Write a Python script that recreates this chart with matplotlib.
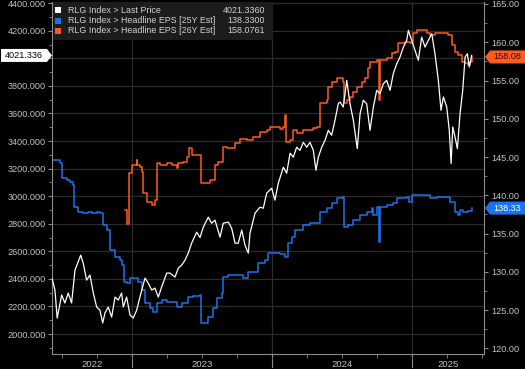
import matplotlib
matplotlib.use('Agg')
import matplotlib.pyplot as plt
import matplotlib.transforms as mtransforms
from matplotlib.patches import Polygon, Rectangle
from matplotlib.ticker import MultipleLocator, FormatStrFormatter, FuncFormatter

# RLG Index last price (left axis), x in decimal years
price_t = [2022.429, 2022.450, 2022.466, 2022.498, 2022.521, 2022.545, 2022.569, 2022.593,
           2022.634, 2022.652, 2022.676, 2022.700, 2022.724, 2022.748, 2022.771, 2022.791,
           2022.807, 2022.831, 2022.855, 2022.879, 2022.902, 2022.926, 2022.938, 2022.962,
           2022.986, 2023.009, 2023.034, 2023.057, 2023.093, 2023.116, 2023.141, 2023.164,
           2023.188, 2023.212, 2023.248, 2023.271, 2023.307, 2023.331, 2023.355, 2023.379,
           2023.402, 2023.426, 2023.462, 2023.486, 2023.509, 2023.545, 2023.569, 2023.593,
           2023.629, 2023.652, 2023.688, 2023.712, 2023.736, 2023.759, 2023.784, 2023.807,
           2023.831, 2023.843, 2023.879, 2023.914, 2023.938, 2023.962, 2023.998, 2024.021,
           2024.045, 2024.081, 2024.105, 2024.129, 2024.152, 2024.176, 2024.200, 2024.224,
           2024.248, 2024.271, 2024.295, 2024.314, 2024.331, 2024.355, 2024.379, 2024.402,
           2024.426, 2024.450, 2024.474, 2024.486, 2024.509, 2024.534, 2024.557, 2024.581,
           2024.609, 2024.629, 2024.652, 2024.676, 2024.700, 2024.724, 2024.748, 2024.771,
           2024.795, 2024.819, 2024.843, 2024.866, 2024.891, 2024.914, 2024.938, 2024.962,
           2024.974, 2024.998, 2025.021, 2025.045, 2025.069, 2025.093, 2025.116, 2025.141,
           2025.164, 2025.188, 2025.207, 2025.224, 2025.248, 2025.266, 2025.279, 2025.291,
           2025.307, 2025.324, 2025.343, 2025.362, 2025.379, 2025.395, 2025.409, 2025.426]
price_v = [2404, 2319, 2116, 2283, 2225, 2297, 2225, 2464,
           2572, 2514, 2391, 2428, 2297, 2196, 2174, 2080,
           2152, 2196, 2123, 2268, 2246, 2297, 2196, 2268,
           2138, 2116, 2174, 2268, 2406, 2370, 2319, 2333,
           2268, 2341, 2442, 2442, 2413, 2478, 2500, 2536,
           2587, 2659, 2739, 2700, 2775, 2848, 2804, 2826,
           2703, 2804, 2812, 2768, 2659, 2659, 2754, 2645,
           2587, 2732, 2877, 2920, 2913, 3022, 3058, 2971,
           3094, 3210, 3167, 3312, 3283, 3355, 3333, 3391,
           3355, 3391, 3333, 3188, 3283, 3355, 3406, 3478,
           3442, 3551, 3674, 3683, 3647, 3840, 3671, 3551,
           3345, 3599, 3696, 3671, 3478, 3647, 3768, 3744,
           3816, 3840, 3768, 3889, 3961, 4009, 4082, 4130,
           4203, 4130, 4058, 3986, 4154, 4082, 4130, 4179,
           4033, 3840, 3623, 3720, 3647, 3478, 3237, 3502,
           3430, 3345, 3599, 3768, 4009, 4033, 3937, 4021.336]

# Headline EPS 25Y estimate (right axis)
eps25_t = [2022.429, 2022.486, 2022.498, 2022.534, 2022.557, 2022.576, 2022.586, 2022.616,
           2022.652, 2022.688, 2022.712, 2022.748, 2022.771, 2022.795, 2022.819, 2022.843,
           2022.879, 2022.914, 2022.926, 2022.943, 2022.962, 2022.986, 2023.021, 2023.045,
           2023.069, 2023.093, 2023.129, 2023.152, 2023.176, 2023.212, 2023.248, 2023.284,
           2023.319, 2023.355, 2023.391, 2023.402, 2023.438, 2023.486, 2023.491, 2023.521,
           2023.545, 2023.581, 2023.605, 2023.641, 2023.652, 2023.688, 2023.771, 2023.795,
           2023.831, 2023.879, 2023.902, 2023.950, 2023.974, 2024.057, 2024.093, 2024.116,
           2024.141, 2024.164, 2024.224, 2024.271, 2024.319, 2024.343, 2024.391, 2024.426,
           2024.462, 2024.509, 2024.514, 2024.545, 2024.581, 2024.629, 2024.676, 2024.712,
           2024.724, 2024.748, 2024.764, 2024.766, 2024.769, 2024.819, 2024.866, 2024.891,
           2024.962, 2024.981, 2024.998, 2025.081, 2025.129, 2025.176, 2025.248, 2025.271,
           2025.307, 2025.331, 2025.343, 2025.366, 2025.402, 2025.426]
eps25_v = [144.58, 144.18, 142.22, 142.00, 141.78, 141.37, 138.50, 137.85,
           137.64, 137.85, 137.64, 137.85, 137.64, 136.11, 135.45, 132.85,
           131.97, 131.55, 130.89, 128.71, 128.49, 129.15, 129.15, 128.71,
           127.63, 125.89, 125.23, 124.79, 125.89, 126.31, 126.09, 126.09,
           125.45, 125.89, 125.89, 126.75, 126.88, 126.97, 123.26, 123.26,
           124.14, 125.23, 126.53, 127.18, 129.36, 129.58, 129.58, 129.22,
           130.01, 130.01, 131.11, 131.55, 132.42, 132.33, 131.97, 133.72,
           134.59, 135.45, 136.11, 136.33, 136.33, 137.85, 138.28, 138.94,
           139.60, 139.83, 135.89, 136.11, 136.77, 137.42, 137.85, 138.28,
           137.42, 138.50, 138.50, 133.94, 138.50, 138.72, 138.94, 139.60,
           139.81, 139.16, 140.03, 140.03, 139.60, 139.81, 139.81, 139.16,
           137.85, 137.42, 138.07, 137.85, 137.98, 138.33]

# Headline EPS 26Y estimate (right axis)
eps26_t = [2022.950, 2022.962, 2022.974, 2022.981, 2022.998, 2023.029, 2023.034, 2023.039,
           2023.057, 2023.069, 2023.076, 2023.105, 2023.141, 2023.164, 2023.176, 2023.200,
           2023.248, 2023.284, 2023.319, 2023.331, 2023.366, 2023.391, 2023.409, 2023.426,
           2023.486, 2023.491, 2023.545, 2023.557, 2023.593, 2023.616, 2023.652, 2023.676,
           2023.712, 2023.736, 2023.771, 2023.819, 2023.866, 2023.914, 2023.962, 2023.986,
           2024.021, 2024.057, 2024.076, 2024.093, 2024.100, 2024.129, 2024.152, 2024.176,
           2024.224, 2024.295, 2024.319, 2024.343, 2024.391, 2024.402, 2024.426, 2024.462,
           2024.486, 2024.509, 2024.514, 2024.534, 2024.557, 2024.581, 2024.605, 2024.641,
           2024.664, 2024.688, 2024.700, 2024.748, 2024.763, 2024.766, 2024.769, 2024.784,
           2024.819, 2024.855, 2024.879, 2024.902, 2024.950, 2024.986, 2025.009, 2025.034,
           2025.081, 2025.105, 2025.129, 2025.164, 2025.236, 2025.259, 2025.284, 2025.307,
           2025.331, 2025.355, 2025.379, 2025.402, 2025.414, 2025.426]
eps26_v = [138.07, 136.30, 136.30, 142.88, 143.96, 143.96, 144.61, 143.96,
           143.74, 143.08, 140.26, 139.16, 138.72, 139.37, 144.18, 143.96,
           144.18, 143.96, 143.52, 144.18, 144.39, 145.04, 146.14, 145.26,
           145.26, 141.56, 141.56, 142.00, 143.96, 144.39, 146.35, 146.14,
           146.14, 146.79, 147.31, 147.22, 147.66, 148.31, 148.53, 148.96,
           148.88, 148.63, 148.96, 150.48, 147.00, 147.22, 148.53, 148.10,
           148.53, 148.75, 148.96, 152.02, 152.44, 154.18, 154.84, 155.28,
           155.28, 154.84, 152.02, 152.44, 152.88, 153.54, 154.18, 154.84,
           155.28, 156.59, 157.46, 157.68, 157.68, 152.44, 157.68, 157.68,
           157.90, 158.55, 158.76, 159.86, 160.07, 159.86, 161.17, 161.60,
           161.60, 161.17, 160.95, 161.17, 161.17, 160.95, 159.64, 158.76,
           158.33, 157.46, 157.25, 157.03, 157.46, 158.0761]

legend_names = ['RLG Index > Last Price',
                'RLG Index > Headline EPS [25Y Est]',
                'RLG Index > Headline EPS [26Y Est]']
legend_values = ['4021.3360', '138.3300', '158.0761']
tag_left = '4021.336'
tag_eps25 = '138.33'
tag_eps26 = '158.08'
years = [2022, 2023, 2024, 2025]

WHITE = '#ffffff'
BLUE = '#1a73f0'
ORANGE = '#ff5a1f'
GRID = '#2c2c2c'
TXT = '#c4c4c4'
SPINE = '#8c8c8c'

plt.rcParams['font.family'] = ['Liberation Sans', 'DejaVu Sans']

W, H = 525, 369
fig = plt.figure(figsize=(W / 100, H / 100), dpi=100, facecolor='black')
ax2 = fig.add_axes([52 / W, 1 - 354 / H, 432 / W, 352 / H])
ax2.set_facecolor('black')
ax = fig.add_axes(ax2.get_position(), sharex=ax2)
ax.patch.set_visible(False)

xmin, xmax = 2022.429, 2025.514
ax2.set_xlim(xmin, xmax)
ax.set_ylim(1855, 4409)
ax2.set_ylim(119.26, 165.26)

# grid: vertical at year starts, horizontal at left ticks (drawn under the lines)
left_ticks = list(range(2000, 4401, 200))
blend_l = mtransforms.blended_transform_factory(ax2.transAxes, ax.transData)
for yv in left_ticks:
    ax2.plot([0, 1], [yv, yv], color=GRID, lw=0.9, transform=blend_l, zorder=0)
for yr in years[1:]:
    ax2.axvline(yr, color=GRID, lw=0.9, zorder=0)

ax2.plot(eps25_t, eps25_v, color=BLUE, lw=1.1, drawstyle='steps-post', zorder=2)
ax2.plot(eps26_t, eps26_v, color=ORANGE, lw=1.1, drawstyle='steps-post', zorder=2)
ax.plot(price_t, price_v, color=WHITE, lw=0.9, zorder=3)

# axes styling
for a in (ax, ax2):
    for s in a.spines.values():
        s.set_visible(False)
ax.spines['left'].set_visible(True)
ax.spines['left'].set_color(SPINE)
ax.spines['bottom'].set_visible(True)
ax.spines['bottom'].set_color(SPINE)
ax2.spines['right'].set_visible(True)
ax2.spines['right'].set_color(SPINE)


def left_fmt(v, pos):
    # the last-price tag sits over the tick label it would collide with
    if abs(v - price_v[-1]) < 100:
        return ''
    return '%.3f' % v


ax.yaxis.set_major_locator(MultipleLocator(200))
ax.yaxis.set_minor_locator(MultipleLocator(100))
ax.yaxis.set_major_formatter(FuncFormatter(left_fmt))
ax.tick_params(axis='y', which='both', direction='out', color=SPINE, labelcolor=TXT,
               labelsize=6.6, pad=1.5)
ax.tick_params(axis='y', which='major', length=3)
ax.tick_params(axis='y', which='minor', length=2)

ax2.yaxis.set_major_locator(MultipleLocator(5))
ax2.yaxis.set_minor_locator(MultipleLocator(2.5))
ax2.yaxis.set_major_formatter(FormatStrFormatter('%.2f'))
ax2.yaxis.tick_right()
ax2.tick_params(axis='y', which='both', direction='out', color=SPINE, labelcolor=TXT,
                labelsize=6.6, pad=2)
ax2.tick_params(axis='y', which='major', length=3)
ax2.tick_params(axis='y', which='minor', length=2)

ax.xaxis.set_major_locator(MultipleLocator(1))
ax.xaxis.set_minor_locator(MultipleLocator(0.25))
ax.tick_params(axis='x', which='both', direction='out', color=SPINE, length=3,
               labelbottom=False)
ax2.tick_params(axis='x', which='both', bottom=False, labelbottom=False)

# year labels centred on the visible part of each year, separators between
blend_x = mtransforms.blended_transform_factory(ax.transData, ax.transAxes)
for yr in years:
    lo, hi = max(yr, xmin), min(yr + 1, xmax)
    ax.text((lo + hi) / 2, -0.03, str(yr), transform=blend_x, ha='center', va='center',
            color=TXT, fontsize=6.8, clip_on=False)
for yr in years[1:]:
    ax.plot([yr, yr], [-0.014, -0.037], transform=blend_x, color=SPINE, lw=0.8,
            clip_on=False)

# legend box
ax.add_patch(Rectangle((0.002, 0.892), 0.51, 0.108, transform=ax.transAxes,
                       facecolor='#1c1c1c', edgecolor='none', zorder=5))
row_y = [0.977, 0.947, 0.918]
for name, val, col, yy in zip(legend_names, legend_values, [WHITE, BLUE, ORANGE], row_y):
    ax.add_patch(Rectangle((0.0075, yy - 0.0085), 0.0135, 0.017, transform=ax.transAxes,
                           facecolor=col, edgecolor='none', zorder=6))
    ax.text(0.037, yy, name, transform=ax.transAxes, ha='left', va='center',
            color='#d2d2d2', fontsize=6.4, zorder=6)
    ax.text(0.493, yy, val, transform=ax.transAxes, ha='right', va='center',
            color='#d2d2d2', fontsize=6.4, zorder=6)


# last value tags at the axes
def tag(yd, x0, x1, tip, face, text, tcolor):
    hh = 6.5
    if tip > x1:
        pts = [(x0, yd - hh), (x1, yd - hh), (tip, yd), (x1, yd + hh), (x0, yd + hh)]
    else:
        pts = [(tip, yd), (x0, yd - hh), (x1, yd - hh), (x1, yd + hh), (x0, yd + hh)]
    pts = [(px / W, py / H) for px, py in pts]
    fig.add_artist(Polygon(pts, closed=True, transform=fig.transFigure,
                           facecolor=face, edgecolor='none'))
    fig.text(((x0 + x1) / 2) / W, yd / H, text, ha='center', va='center',
             color=tcolor, fontsize=6.6)


yd_price = ax.transData.transform((xmin, price_v[-1]))[1]
yd_e25 = ax2.transData.transform((xmin, eps25_v[-1]))[1]
yd_e26 = ax2.transData.transform((xmin, eps26_v[-1]))[1]
tag(yd_price, 1, 47, 52, WHITE, tag_left, 'black')
tag(yd_e26, 490, 525, 485, ORANGE, tag_eps26, '#3a0c00')
tag(yd_e25, 490, 525, 485, BLUE, tag_eps25, 'white')

fig.savefig('out.png', dpi=100, facecolor='black')
